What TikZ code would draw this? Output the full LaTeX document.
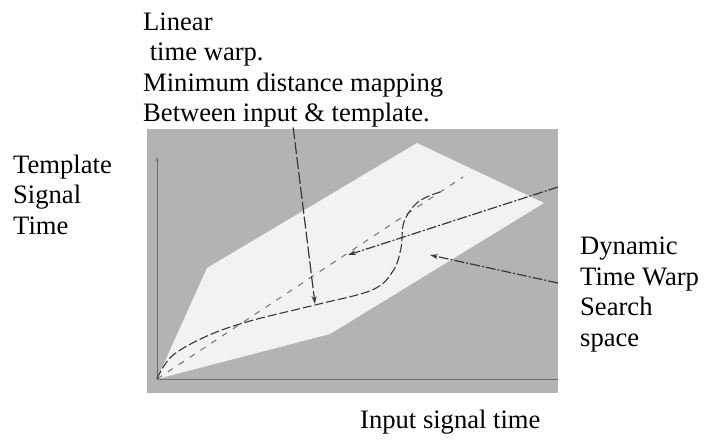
\documentclass[tikz,border=0pt]{standalone}
\usepackage{fontspec}
\setmainfont{Liberation Serif}
\usetikzlibrary{arrows.meta}
\definecolor{panelgray}{HTML}{B3B3B3}
\definecolor{spacewhite}{HTML}{F2F2F2}
\definecolor{inkgray}{HTML}{383838}
\definecolor{axisgray}{HTML}{6E6E6E}

\tikzset{
  lbl/.style={anchor=base west, inner sep=0pt, align=left, font=\fontsize{26.6}{30.5}\selectfont},
  pointer/.style={inkgray, line width=1.2pt, -{Stealth[length=8pt,width=5pt]}},
}

\begin{document}
\begin{tikzpicture}[x=1pt,y=-1pt]
\useasboundingbox (0,0) rectangle (718,440);

% panel and search space
\fill[panelgray] (147,129) rectangle (558,393);
\fill[spacewhite] (157,379) -- (207,268) -- (417,143) -- (544,203) -- (330,334) -- cycle;

% axes
\draw[axisgray, line width=0.8pt, -{Stealth[length=5pt,width=3pt]}] (157,379) -- (157,157);
\draw[axisgray, line width=0.8pt] (157,379) -- (558,379);

% linear warp
\draw[inkgray!70, line width=1pt, dash pattern=on 6pt off 7pt] (157,379) -- (463,177);

% warping path
\draw[inkgray, line width=1.1pt, dash pattern=on 9pt off 3pt] plot[smooth, tension=0.6] coordinates {(157,379) (172,356) (207,336) (250,321) (315,305) (372,290) (393,271) (401,248) (404,222) (418,202) (440,192)};

% labels (anchored at the baseline of the last line)
\node[lbl] (linlbl) at (143,121.5) {Linear\\\ time warp.\\Minimum distance mapping\\Between input \& template.};
\node[lbl] (tmplbl) at (13,234) {Template\\Signal\\Time};
\node[lbl] (dtwlbl) at (580,346) {Dynamic\\Time Warp\\Search\\space};
\node[lbl] (inlbl) at (360,428) {Input signal time};

% pointers
\coordinate (dtwpt) at (315,304);
\coordinate (linpt) at (348,255);
\coordinate (spacept) at (430,255);
\coordinate (edgehi) at (558,187);
\coordinate (edgelo) at (558,283);
\draw[pointer, dash pattern=on 12pt off 3pt] (linlbl.south) -- (dtwpt);
\draw[pointer, dash pattern=on 10pt off 2pt on 2pt off 2pt] (edgehi) -- (linpt);
\draw[pointer, dash pattern=on 10pt off 2pt on 2pt off 2pt] (edgelo) -- (spacept);
\end{tikzpicture}
\end{document}
